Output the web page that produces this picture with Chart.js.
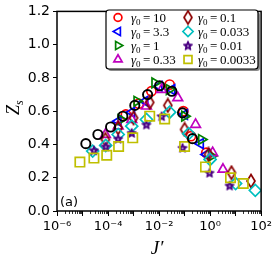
<!DOCTYPE html>
<html>
<head>
<meta charset="utf-8">
<script src="https://cdn.jsdelivr.net/npm/chart.js@4/dist/chart.umd.min.js"></script>
<style>
  html, body { margin: 0; padding: 0; background: #fff; }
  #wrap { width: 275px; height: 262px; }
</style>
</head>
<body>
<div id="wrap"><canvas id="chart" width="275" height="262"></canvas></div>
<script>
// gamma_0 values shown in the legend
var gammaLabels = ['10', '3.3', '1', '0.33', '0.1', '0.033', '0.01', '0.0033'];

// J' values and Z_s values per series
var jBlack = [1.35e-5, 4.0e-5, 1.26e-4, 3.8e-4, 1.12e-3, 3.55e-3, 1.05e-2, 3.16e-2, 8.3e-2, 0.204];
var zBlack = [0.405, 0.46, 0.505, 0.57, 0.635, 0.70, 0.753, 0.72, 0.59, 0.435];

var jG10 = [5.0e-4, 1.6e-3, 5.0e-3, 2.6e-2, 8.9e-2, 0.178, 0.71];
var zG10 = [0.58, 0.645, 0.72, 0.76, 0.60, 0.45, 0.35];

var jG3_3 = [2.5e-4, 8.5e-4, 2.8e-3, 1.0e-2, 3.2e-2, 0.1, 0.42, 0.72];
var zG3_3 = [0.54, 0.594, 0.66, 0.75, 0.73, 0.58, 0.405, 0.34];

var jG1 = [3.2e-4, 1.35e-3, 6.8e-3, 2.5e-2, 0.1, 0.46, 1.12];
var zG1 = [0.55, 0.66, 0.77, 0.73, 0.57, 0.43, 0.33];

var jG0_33 = [7.9e-5, 2.5e-4, 8.5e-4, 3.2e-3, 1.26e-2, 5.4e-2, 0.27, 1.26, 3.2];
var zG0_33 = [0.46, 0.51, 0.55, 0.63, 0.73, 0.68, 0.52, 0.35, 0.25];

var jG0_1 = [7.9e-5, 2.5e-4, 1.0e-3, 4.3e-3, 2.2e-2, 0.1, 0.87, 6.9, 40];
var zG0_1 = [0.43, 0.50, 0.56, 0.653, 0.635, 0.49, 0.34, 0.23, 0.18];

var jG0_033 = [2.5e-5, 8.1e-5, 2.5e-4, 8.5e-4, 3.2e-3, 2.6e-2, 0.145, 1.0, 10, 59];
var zG0_033 = [0.36, 0.394, 0.46, 0.51, 0.55, 0.594, 0.465, 0.31, 0.165, 0.124];

var jG0_01 = [2.8e-5, 8.1e-5, 2.5e-4, 8.5e-4, 3.2e-3, 1.26e-2, 8.3e-2, 0.95, 5.8];
var zG0_01 = [0.365, 0.388, 0.435, 0.47, 0.52, 0.57, 0.38, 0.23, 0.153];

var jG0_0033 = [7.9e-6, 2.8e-5, 8.9e-5, 2.6e-4, 9.3e-4, 4.3e-3, 1.66e-2, 0.1, 0.66, 6.3, 20];
var zG0_0033 = [0.294, 0.318, 0.335, 0.388, 0.44, 0.57, 0.553, 0.388, 0.265, 0.2, 0.165];

var yTicks = [0, 0.2, 0.4, 0.6, 0.8, 1.0, 1.2];
var xDecades = [1e-6, 1e-5, 1e-4, 1e-3, 1e-2, 1e-1, 1e0, 1e1, 1e2];
var xLabels = {'-6': '10\u207B\u2076', '-4': '10\u207B\u2074', '-2': '10\u207B\u00B2', '0': '10\u2070', '2': '10\u00B2'};

function pts(xs, ys) {
    var out = [];
    for (var i = 0; i < xs.length; i++) out.push({x: xs[i], y: ys[i]});
    return out;
}

// marker images for shapes chart.js does not have
function thinDiamond(color) {
    var c = document.createElement('canvas');
    c.width = 12; c.height = 16;
    var g = c.getContext('2d');
    g.strokeStyle = color; g.lineWidth = 1.7;
    g.beginPath();
    g.moveTo(6, 1.5); g.lineTo(10, 8); g.lineTo(6, 14.5); g.lineTo(2, 8); g.closePath();
    g.stroke();
    return c;
}
function starMarker(color) {
    var c = document.createElement('canvas');
    c.width = 12; c.height = 12;
    var g = c.getContext('2d');
    g.strokeStyle = color; g.fillStyle = color; g.lineWidth = 1.2; g.lineJoin = 'round';
    g.beginPath();
    for (var k = 0; k < 10; k++) {
        var r = k % 2 === 0 ? 4.6 : 2.1;
        var a = -Math.PI / 2 + k * Math.PI / 5;
        var px = 6 + r * Math.cos(a), py = 6.4 + r * Math.sin(a);
        if (k === 0) g.moveTo(px, py); else g.lineTo(px, py);
    }
    g.closePath();
    g.fill();
    g.stroke();
    // light centre like the reference marker
    g.fillStyle = '#b8a0d8';
    g.beginPath(); g.arc(6, 6.6, 1, 0, Math.PI * 2); g.fill();
    return c;
}

var series = [
    {j: jG10,     z: zG10,     color: '#ff0000', style: 'circle',   r: 4.6, rot: 0},
    {j: jG3_3,    z: zG3_3,    color: '#0000ff', style: 'triangle', r: 5.6, rot: -90},
    {j: jG1,      z: zG1,      color: '#008000', style: 'triangle', r: 5.6, rot: 90},
    {j: jG0_33,   z: zG0_33,   color: '#bf00bf', style: 'triangle', r: 5.6, rot: 0},
    {j: jG0_1,    z: zG0_1,    color: '#8b0000', style: thinDiamond('#8b0000'), r: 5, rot: 0},
    {j: jG0_033,  z: zG0_033,  color: '#00bfbf', style: 'rectRot',  r: 6, rot: 0},
    {j: jG0_01,   z: zG0_01,   color: '#4b0082', style: starMarker('#4b0082'), r: 5, rot: 0},
    {j: jG0_0033, z: zG0_0033, color: '#bfbf00', style: 'rect',     r: 6.6, rot: 0}
];

var datasets = [{
    label: '',
    data: pts(jBlack, zBlack),
    pointStyle: 'circle',
    pointRadius: 4.6,
    pointBorderWidth: 1.9,
    pointBorderColor: '#000',
    pointBackgroundColor: 'rgba(0,0,0,0)',
    showLine: false,
    order: 0
}];
for (var i = 0; i < series.length; i++) {
    var s = series[i];
    datasets.push({
        label: gammaLabels[i],
        data: pts(s.j, s.z),
        pointStyle: s.style,
        pointRadius: s.r,
        pointRotation: s.rot,
        pointBorderWidth: 1.7,
        pointBorderColor: s.color,
        pointBackgroundColor: 'rgba(0,0,0,0)',
        showLine: false,
        order: series.length - i
    });
}

// fallback marker drawing for the legend, in case helpers are not exposed
function legendMarker(ctx, d, x, y, r) {
    if (Chart.helpers && Chart.helpers.drawPoint) {
        Chart.helpers.drawPoint(ctx, {pointStyle: d.pointStyle, radius: r, rotation: d.pointRotation || 0, borderWidth: 1.7}, x, y);
        return;
    }
    var st = d.pointStyle;
    if (typeof st !== 'string') { ctx.drawImage(st, x - st.width / 2, y - st.height / 2); return; }
    ctx.beginPath();
    if (st === 'circle') ctx.arc(x, y, r, 0, Math.PI * 2);
    else if (st === 'rect') { var h = r * Math.SQRT1_2; ctx.rect(x - h, y - h, 2 * h, 2 * h); }
    else if (st === 'rectRot') { ctx.moveTo(x - r, y); ctx.lineTo(x, y - r); ctx.lineTo(x + r, y); ctx.lineTo(x, y + r); ctx.closePath(); }
    else if (st === 'triangle') {
        var rad = (d.pointRotation || 0) * Math.PI / 180;
        for (var k = 0; k < 3; k++) {
            var px = x + Math.sin(rad) * r, py = y - Math.cos(rad) * r;
            if (k === 0) ctx.moveTo(px, py); else ctx.lineTo(px, py);
            rad += Math.PI * 2 / 3;
        }
        ctx.closePath();
    }
    ctx.stroke();
}

var decor = {
    id: 'decor',
    afterDraw: function (chart) {
        var ctx = chart.ctx, a = chart.chartArea;
        var xs = chart.scales.x;
        ctx.save();
        // minor x ticks
        ctx.strokeStyle = '#000'; ctx.lineWidth = 0.8;
        for (var e = -6; e < 2; e++) {
            for (var m = 2; m <= 9; m++) {
                var px = Math.round(xs.getPixelForValue(m * Math.pow(10, e))) + 0.5;
                ctx.beginPath(); ctx.moveTo(px, a.bottom); ctx.lineTo(px, a.bottom + 3); ctx.stroke();
            }
        }
        // frame
        ctx.lineWidth = 1.5;
        ctx.strokeRect(a.left, a.top, a.right - a.left, a.bottom - a.top);

        // panel tag
        ctx.fillStyle = '#000';
        ctx.font = '13px "DejaVu Sans"';
        ctx.textAlign = 'left'; ctx.textBaseline = 'alphabetic';
        ctx.fillText('(a)', a.left + 3, a.bottom - 5);

        // axis titles
        ctx.font = 'italic 19px "Liberation Serif"';
        ctx.textAlign = 'center';
        ctx.fillText('J\u2032', (a.left + a.right) / 2 - 2, 254);

        ctx.save();
        ctx.translate(19, 108);
        ctx.rotate(-Math.PI / 2);
        ctx.textAlign = 'left';
        ctx.font = 'italic 18px "Liberation Serif"';
        ctx.fillText('Z', -7, 0);
        var zw = ctx.measureText('Z').width;
        ctx.font = 'italic 12px "Liberation Serif"';
        ctx.fillText('s', -7 + zw, 4);
        ctx.restore();

        // legend box with shadow
        var bx = 106, by = 10, bw = 152, bh = 59;
        function rr(x, y, w, h, r) {
            ctx.beginPath();
            ctx.moveTo(x + r, y); ctx.lineTo(x + w - r, y); ctx.arcTo(x + w, y, x + w, y + r, r);
            ctx.lineTo(x + w, y + h - r); ctx.arcTo(x + w, y + h, x + w - r, y + h, r);
            ctx.lineTo(x + r, y + h); ctx.arcTo(x, y + h, x, y + h - r, r);
            ctx.lineTo(x, y + r); ctx.arcTo(x, y, x + r, y, r);
            ctx.closePath();
        }
        rr(bx + 2, by + 2, bw, bh, 3);
        ctx.fillStyle = 'rgba(0,0,0,0.45)'; ctx.fill();
        rr(bx, by, bw, bh, 3);
        ctx.fillStyle = '#fff'; ctx.fill();
        ctx.strokeStyle = '#000'; ctx.lineWidth = 1.2; ctx.stroke();

        var sets = chart.data.datasets.filter(function (d) { return d.label !== ''; });
        for (var k = 0; k < sets.length; k++) {
            var d = sets[k];
            var col = Math.floor(k / 4), row = k % 4;
            var mx = col === 0 ? 118 : 188;
            var my = 17.5 + row * 14;
            ctx.strokeStyle = d.pointBorderColor; ctx.fillStyle = 'rgba(0,0,0,0)';
            ctx.lineWidth = 1.7;
            legendMarker(ctx, d, mx, my, d.pointRadius * 0.85);
            var tx = col === 0 ? 131 : 198;
            var ty = my + 4.5;
            ctx.fillStyle = '#000'; ctx.textAlign = 'left';
            ctx.font = 'italic 13px "Liberation Serif"';
            ctx.fillText('\u03B3', tx, ty);
            var w1 = ctx.measureText('\u03B3').width;
            ctx.font = '9px "Liberation Serif"';
            ctx.fillText('0', tx + w1, ty + 2.5);
            var w2 = ctx.measureText('0').width;
            ctx.font = '13px "Liberation Serif"';
            ctx.fillText('=', tx + w1 + w2 + 2.5, ty);
            var w3 = ctx.measureText('=').width;
            ctx.fillText(d.label, tx + w1 + w2 + w3 + 5, ty);
        }
        ctx.restore();
    }
};

new Chart(document.getElementById('chart').getContext('2d'), {
    type: 'scatter',
    data: {datasets: datasets},
    plugins: [decor],
    options: {
        responsive: false,
        animation: false,
        layout: {padding: {top: 7, right: 13, left: 0, bottom: 0}},
        plugins: {legend: {display: false}, tooltip: {enabled: false}},
        scales: {
            x: {
                type: 'logarithmic',
                min: 1e-6,
                max: 1e2,
                afterBuildTicks: function (scale) {
                    scale.ticks = xDecades.map(function (v) { return {value: v}; });
                },
                afterFit: function (scale) { scale.height = 51; },
                ticks: {
                    autoSkip: false,
                    maxRotation: 0,
                    padding: 3,
                    color: '#000',
                    font: {family: 'DejaVu Sans', size: 13},
                    callback: function (v) {
                        var e = Math.round(Math.log10(v));
                        return xLabels[String(e)] || '';
                    }
                },
                grid: {display: true, drawOnChartArea: false, drawTicks: true, tickLength: 5, tickColor: '#000', tickWidth: 1},
                border: {display: false}
            },
            y: {
                min: 0,
                max: 1.2,
                afterBuildTicks: function (scale) {
                    scale.ticks = yTicks.map(function (v) { return {value: v}; });
                },
                afterFit: function (scale) { scale.width = 57; },
                ticks: {
                    padding: 3,
                    color: '#000',
                    font: {family: 'DejaVu Sans', size: 14},
                    callback: function (v) { return v.toFixed(1); }
                },
                grid: {display: true, drawOnChartArea: false, drawTicks: true, tickLength: 4, tickColor: '#000', tickWidth: 1},
                border: {display: false}
            }
        }
    }
});
</script>
</body>
</html>
